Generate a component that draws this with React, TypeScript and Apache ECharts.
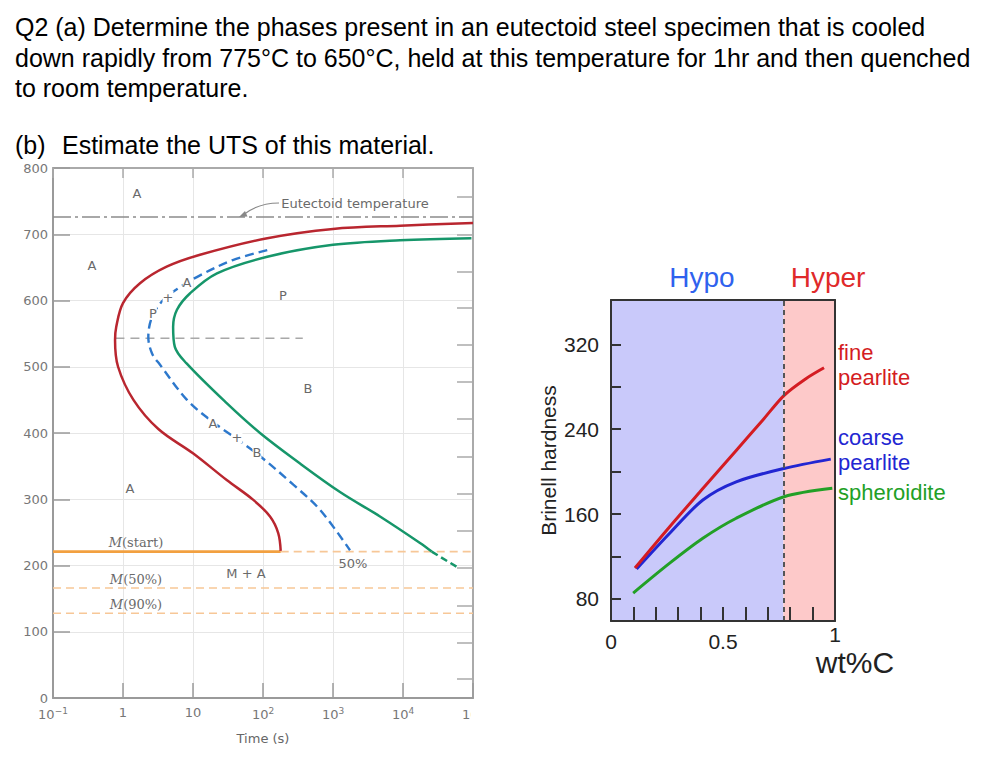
import React, { useEffect, useRef } from "react";
import * as echarts from "echarts";

// ---------- Left chart: TTT diagram of eutectoid steel ----------
const startTime = [1e5, 9100, 1000, 115, 12.6, 4.2, 1.75, 1.0, 0.8, 0.77, 0.85, 1.41, 3.2, 10.1, 30.3, 72.7, 126, 165, 179];
const startTemp = [717, 713, 708, 694, 669, 651, 626, 596, 560, 540, 500, 450, 406, 369, 329, 299, 274, 249, 222];

const endTime = [95000, 9100, 1000, 115, 22, 9.1, 5.9, 5.2, 5.5, 8.1, 30.3, 90.6, 338, 1259, 4693, 17500, 25700];
const endTemp = [694, 691, 684, 666, 641, 611, 586, 560, 530, 505, 445, 400, 354, 311, 274, 234, 221];
const endTailTime = [25700, 58500];
const endTailTemp = [221, 198];

const halfTime = [115, 37, 12.6, 6.5, 3.7, 2.6, 2.3, 2.6, 3.38, 8.2, 17.5, 81.3, 271, 652, 1750];
const halfTemp = [676, 661, 638, 620, 600, 575, 545, 520, 503, 450, 420, 369, 322, 284, 223];

const eutectoidTemp = 726;
const noseTemp = 543;
const noseSpan = [0.78, 370];
const mStartTemp = 221;
const mStartEndTime = 179;
const m50Temp = 166;
const m90Temp = 128;
const timeRange = [0.1, 1e5];
const rightScaleTicks = [29, 84, 139, 196, 252, 308, 364, 421, 477, 533, 589, 643, 699, 756];

// ---------- Right chart: Brinell hardness vs wt%C ----------
const fineWt = [0.107, 0.262, 0.41, 0.559, 0.677, 0.773, 0.87, 0.951];
const fineHB = [109, 148, 184, 220, 248.5, 272, 287.7, 298];
const coarseWt = [0.114, 0.262, 0.41, 0.559, 0.773, 0.981];
const coarseHB = [108, 141.8, 173.2, 190.4, 203, 211.8];
const spherWt = [0.099, 0.262, 0.41, 0.559, 0.773, 0.988];
const spherHB = [85.4, 113.6, 137.1, 156, 176.3, 184.2];
const eutectoidWt = 0.77;
const hbTicks = [80, 120, 160, 200, 240, 280, 320];
const hbLabels = [80, 160, 240, 320];
const wtTicks = [0.1, 0.2, 0.3, 0.4, 0.5, 0.6, 0.7, 0.8, 0.9];
const wtLabels = [0, 0.5];

const zip = (a: number[], b: number[]) => a.map((v, i) => [v, b[i]]);
const timeLabel = (v: number) => {
  const e = Math.round(Math.log10(v));
  if (e === 0) return "1";
  if (e === 1) return "10";
  return "10{s|" + (e < 0 ? "−" + -e : String(e)) + "}";
};

const G = "#777";
const LF = "DejaVu Sans";
const RF = "Liberation Sans";

const lbl = (text: string, x: number, y: number, extra: any = {}) => ({
  type: "text",
  x,
  y,
  z: 50,
  style: {
    text,
    fill: "#6a6a6a",
    font: `13px '${LF}'`,
    align: "center",
    verticalAlign: "middle",
    ...extra,
  },
});

const mLbl = (rest: string, x: number, y: number) => ({
  type: "text",
  x,
  y,
  z: 50,
  style: {
    text: "{i|M}" + rest,
    fill: "#6a6a6a",
    font: "13px 'DejaVu Serif'",
    align: "center",
    verticalAlign: "middle",
    rich: { i: { fontStyle: "italic", fontFamily: "DejaVu Serif", fontSize: 13, fill: "#6a6a6a" } },
  },
});

const title = (text: string, x: number, y: number) => ({
  type: "text",
  x,
  y,
  style: { text, fill: "#000", font: `25px '${RF}'`, verticalAlign: "middle" },
});

const rtext = (text: string, x: number, y: number, color: string, size = 22, align = "left") => ({
  type: "text",
  x,
  y,
  z: 50,
  style: { text, fill: color, font: `${size}px '${RF}'`, align, verticalAlign: "middle" },
});

const option: any = {
  animation: false,
  backgroundColor: "#fff",
  grid: [
    { left: 53, top: 168, width: 420, height: 530 },
    { left: 611, top: 300, width: 224, height: 321 },
  ],
  xAxis: [
    {
      gridIndex: 0,
      type: "log",
      logBase: 10,
      min: timeRange[0],
      max: timeRange[1],
      axisLine: { show: true, onZero: false, lineStyle: { color: "#9a9a9a", width: 2 } },
      axisTick: { show: true, inside: true, length: 15, lineStyle: { color: "#9a9a9a", width: 1.5 } },
      minorTick: { show: false },
      axisLabel: {
        formatter: timeLabel,
        color: G,
        fontFamily: LF,
        fontSize: 13,
        margin: 8,
        rich: { s: { fontSize: 9, fontFamily: LF, color: G, padding: [0, 0, 8, 0], verticalAlign: "bottom" } },
      },
      splitLine: { show: true, lineStyle: { color: "#e6e6e6", width: 1 } },
      name: "Time (s)",
      nameLocation: "middle",
      nameGap: 34,
      nameTextStyle: { color: "#666", fontFamily: LF, fontSize: 13 },
    },
    {
      gridIndex: 0,
      type: "log",
      logBase: 10,
      min: timeRange[0],
      max: timeRange[1],
      position: "top",
      axisLine: { show: true, onZero: false, lineStyle: { color: "#aaa", width: 2 } },
      axisTick: { show: true, inside: true, length: 10, lineStyle: { color: "#aaa", width: 1.5 } },
      axisLabel: { show: false },
      splitLine: { show: false },
    },
    {
      gridIndex: 1,
      type: "value",
      min: 0,
      max: 1,
      z: 10,
      axisLine: { show: true, onZero: false, lineStyle: { color: "#333", width: 2 } },
      axisTick: { show: true, inside: true, length: 14, customValues: wtTicks, lineStyle: { color: "#333", width: 2 } },
      axisLabel: {
        customValues: wtLabels,
        formatter: (v: number) => String(v),
        color: "#222",
        fontFamily: RF,
        fontSize: 21,
        margin: 10,
      },
      splitLine: { show: false },
    },
    {
      gridIndex: 1,
      type: "value",
      min: 0,
      max: 1,
      position: "top",
      z: 10,
      axisLine: { show: true, onZero: false, lineStyle: { color: "#333", width: 2 } },
      axisTick: { show: false },
      axisLabel: { show: false },
      splitLine: { show: false },
    },
  ],
  yAxis: [
    {
      gridIndex: 0,
      type: "value",
      min: 0,
      max: 800,
      interval: 100,
      axisLine: { show: true, onZero: false, lineStyle: { color: "#9a9a9a", width: 2 } },
      axisTick: { show: true, inside: true, length: 17, lineStyle: { color: "#9a9a9a", width: 1.5 } },
      axisLabel: { color: G, fontFamily: LF, fontSize: 13, margin: 5 },
      splitLine: { show: true, lineStyle: { color: "#e6e6e6", width: 1 } },
    },
    {
      gridIndex: 0,
      type: "value",
      min: 0,
      max: 800,
      position: "right",
      axisLine: { show: true, onZero: false, lineStyle: { color: "#aaa", width: 2 } },
      axisTick: { show: true, inside: true, length: 16, customValues: rightScaleTicks, lineStyle: { color: "#aaa", width: 1.5 } },
      axisLabel: { show: false },
      splitLine: { show: false },
    },
    {
      gridIndex: 1,
      type: "value",
      min: 59,
      max: 362,
      z: 10,
      axisLine: { show: true, onZero: false, lineStyle: { color: "#333", width: 2 } },
      axisTick: { show: true, inside: true, length: 10, customValues: hbTicks, lineStyle: { color: "#333", width: 2 } },
      axisLabel: { customValues: hbLabels, color: "#222", fontFamily: RF, fontSize: 21, margin: 12 },
      splitLine: { show: false },
      name: "Brinell hardness",
      nameLocation: "middle",
      nameGap: 52,
      nameRotate: 90,
      nameTextStyle: { color: "#222", fontFamily: RF, fontSize: 21 },
    },
    {
      gridIndex: 1,
      type: "value",
      min: 59,
      max: 362,
      position: "right",
      z: 10,
      axisLine: { show: true, onZero: false, lineStyle: { color: "#333", width: 2 } },
      axisTick: { show: false },
      axisLabel: { show: false },
      splitLine: { show: false },
    },
  ],
  series: [
    // ----- left chart -----
    {
      type: "line", xAxisIndex: 0, yAxisIndex: 0, symbol: "none",
      data: [[timeRange[0], eutectoidTemp], [timeRange[1], eutectoidTemp]],
      lineStyle: { color: "#8c8c8c", width: 1.6, type: [18, 4, 3, 4] },
    },
    {
      type: "line", xAxisIndex: 0, yAxisIndex: 0, symbol: "none",
      data: [[noseSpan[0], noseTemp], [noseSpan[1], noseTemp]],
      lineStyle: { color: "#a8a8a8", width: 1.6, type: [9, 6] },
    },
    {
      type: "line", xAxisIndex: 0, yAxisIndex: 0, symbol: "none",
      data: [[mStartEndTime, mStartTemp], [timeRange[1], mStartTemp]],
      lineStyle: { color: "#f7c797", width: 1.6, type: [8, 5] },
    },
    {
      type: "line", xAxisIndex: 0, yAxisIndex: 0, symbol: "none",
      data: [[timeRange[0], m50Temp], [timeRange[1], m50Temp]],
      lineStyle: { color: "#f7c797", width: 1.6, type: [8, 5] },
    },
    {
      type: "line", xAxisIndex: 0, yAxisIndex: 0, symbol: "none",
      data: [[timeRange[0], m90Temp], [timeRange[1], m90Temp]],
      lineStyle: { color: "#f7c797", width: 1.6, type: [8, 5] },
    },
    {
      type: "line", xAxisIndex: 0, yAxisIndex: 0, symbol: "none",
      data: [[timeRange[0], mStartTemp], [mStartEndTime, mStartTemp]],
      lineStyle: { color: "#f2a040", width: 2.6 },
    },
    {
      type: "line", xAxisIndex: 0, yAxisIndex: 0, symbol: "none", smooth: 0.35,
      data: zip(halfTime, halfTemp),
      lineStyle: { color: "#2d78cc", width: 2.4, type: [9, 5] },
    },
    {
      type: "line", xAxisIndex: 0, yAxisIndex: 0, symbol: "none", smooth: 0.35,
      data: zip(startTime, startTemp),
      lineStyle: { color: "#b9262f", width: 2.5 },
    },
    {
      type: "line", xAxisIndex: 0, yAxisIndex: 0, symbol: "none", smooth: 0.35,
      data: zip(endTime, endTemp),
      lineStyle: { color: "#16966a", width: 2.5 },
    },
    {
      type: "line", xAxisIndex: 0, yAxisIndex: 0, symbol: "none",
      data: zip(endTailTime, endTailTemp),
      lineStyle: { color: "#16966a", width: 2.5, type: [7, 4] },
    },
    // ----- right chart -----
    {
      type: "line", xAxisIndex: 2, yAxisIndex: 2, symbol: "none", data: [],
      markArea: {
        silent: true,
        data: [
          [{ xAxis: 0, itemStyle: { color: "#c9c9fa" } }, { xAxis: eutectoidWt }],
          [{ xAxis: eutectoidWt, itemStyle: { color: "#fdc9c9" } }, { xAxis: 1 }],
        ],
      },
      markLine: {
        silent: true,
        symbol: "none",
        label: { show: false },
        data: [{ xAxis: eutectoidWt }],
        lineStyle: { color: "#555", width: 2, type: [5, 4] },
      },
    },
    {
      type: "line", xAxisIndex: 2, yAxisIndex: 2, symbol: "none", smooth: 0.3,
      data: zip(spherWt, spherHB),
      lineStyle: { color: "#22a026", width: 3 },
    },
    {
      type: "line", xAxisIndex: 2, yAxisIndex: 2, symbol: "none", smooth: 0.3,
      data: zip(coarseWt, coarseHB),
      lineStyle: { color: "#2226d2", width: 3 },
    },
    {
      type: "line", xAxisIndex: 2, yAxisIndex: 2, symbol: "none", smooth: 0.3,
      data: zip(fineWt, fineHB),
      lineStyle: { color: "#d41c22", width: 3 },
    },
  ],
  graphic: [
    title("Q2 (a) Determine the phases present in an eutectoid steel specimen that is cooled", 15, 27),
    title("down rapidly from 775°C to 650°C, held at this temperature for 1hr and then quenched", 15, 58),
    title("to room temperature.", 15, 88),
    title("(b)", 15, 145),
    title("Estimate the UTS of this material.", 62, 145),
    // left chart annotations
    lbl("A", 137, 193),
    lbl("A", 92, 265),
    lbl("P", 283, 295),
    lbl("B", 308, 388),
    lbl("A", 130, 488),
    lbl("P", 153, 313, { backgroundColor: "#fff" }),
    lbl("+", 168, 297, { backgroundColor: "#fff" }),
    lbl("A", 187, 282, { backgroundColor: "#fff" }),
    lbl("A", 213, 423, { backgroundColor: "#fff" }),
    lbl("+", 237, 437, { backgroundColor: "#fff" }),
    lbl("B", 257, 452, { backgroundColor: "#fff" }),
    lbl("M + A", 246, 573),
    lbl("50%", 353, 563),
    lbl("Eutectoid temperature", 355, 203),
    mLbl("(start)", 136, 542),
    mLbl("(50%)", 136, 579),
    mLbl("(90%)", 136, 604),
    {
      type: "bezierCurve",
      z: 50,
      shape: { x1: 279, y1: 203, x2: 243, y2: 215, cpx1: 258, cpy1: 203 },
      style: { stroke: "#888", lineWidth: 1.2, fill: null },
    },
    {
      type: "polygon",
      z: 50,
      shape: { points: [[239, 217], [247.5, 216.5], [245, 211]] },
      style: { fill: "#888" },
    },
    // crop of the last time label
    { type: "rect", z: 100, shape: { x: 471, y: 702, width: 70, height: 28 }, style: { fill: "#fff" } },
    // right chart annotations
    rtext("Hypo", 702, 277, "#2f62ee", 28, "center"),
    rtext("Hyper", 828, 277, "#e02a2a", 28, "center"),
    rtext("fine", 838, 352, "#d41c22"),
    rtext("pearlite", 838, 377, "#d41c22"),
    rtext("coarse", 838, 437, "#2226d2"),
    rtext("pearlite", 838, 462, "#2226d2"),
    rtext("spheroidite", 838, 492, "#22a026"),
    rtext("1", 835, 634, "#222", 21, "center"),
    rtext("wt%C", 855, 662, "#222", 30, "center"),
  ],
};

export default function App() {
  const ref = useRef<HTMLDivElement>(null);
  useEffect(() => {
    document.body.style.margin = "0";
    const chart = echarts.init(ref.current!, null, { renderer: "svg" });
    chart.setOption(option);
    return () => chart.dispose();
  }, []);
  return <div ref={ref} style={{ width: 996, height: 771 }} />;
}
